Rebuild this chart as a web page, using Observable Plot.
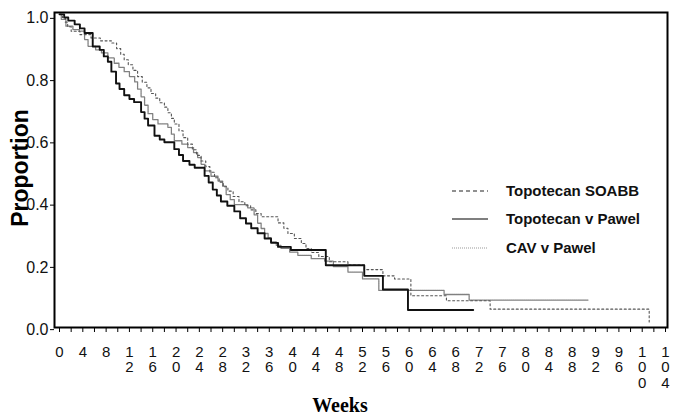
<!DOCTYPE html>
<html><head><meta charset="utf-8">
<script src="https://cdn.jsdelivr.net/npm/d3@7"></script>
<script src="https://cdn.jsdelivr.net/npm/@observablehq/plot@0.6"></script>
<style>
body{margin:0;background:#fff;}
#wrap{position:relative;width:675px;height:416px;overflow:hidden;background:#fff;}
#ylab{position:absolute;left:20px;top:168px;transform:translate(-50%,-50%) rotate(-90deg);font:bold 23px "Liberation Sans",Arial,sans-serif;color:#000;white-space:nowrap;}
#xlab{position:absolute;left:340px;top:405px;transform:translate(-50%,-50%);font:bold 20px "Liberation Serif","Times New Roman",serif;color:#000;white-space:nowrap;}
#legend{position:absolute;left:0;top:0;}
</style></head><body><div id="wrap"><div id="ylab">Proportion</div><div id="xlab">Weeks</div></div>
<script>
// Series names (legend order)
const seriesNames = ["Topotecan SOABB", "Topotecan v Pawel", "CAV v Pawel"];

// Topotecan SOABB (short dashes) : step times (weeks) and survival proportion
const soabbWeeks = [0,0.5,1.0,1.4,2.0,3.5,5.4,7.0,8.9,9.8,10.5,11.1,11.8,12.6,13.4,14.2,15.0,15.7,16.5,17.2,18.0,18.6,19.2,19.7,20.5,21.2,22.0,22.8,23.5,24.3,25.1,25.8,26.6,27.4,28.1,28.9,29.8,30.8,31.8,32.8,33.7,34.6,37.5,38.5,39.2,40.3,41.5,42.3,43.2,44.5,46.3,49.5,52.3,55.5,57.5,60.3,66.4,73.9,101.2];
const soabbSurv  = [1.0,0.99,0.975,0.96,0.946,0.935,0.924,0.915,0.908,0.89,0.872,0.854,0.838,0.82,0.80,0.782,0.764,0.746,0.731,0.716,0.702,0.684,0.666,0.648,0.626,0.604,0.583,0.565,0.547,0.529,0.511,0.493,0.475,0.461,0.446,0.432,0.415,0.398,0.385,0.372,0.36,0.35,0.33,0.313,0.296,0.28,0.264,0.248,0.235,0.222,0.205,0.195,0.18,0.16,0.15,0.096,0.08,0.053,0.012];

// Topotecan v Pawel (solid)
const topoWeeks = [0,0.8,1.5,2.6,3.5,4.3,5.7,6.9,7.6,8.3,8.9,9.7,10.3,11.1,12.0,12.8,14.0,14.6,15.2,16.3,17.2,18.0,19.7,20.5,21.2,22.3,23.2,24.9,25.6,26.3,27.0,27.7,28.8,30.0,31.0,32.0,32.9,34.0,35.2,36.3,37.5,39.7,45.7,52.3,55.5,59.8,71.0];
const topoSurv  = [1.0,0.99,0.98,0.968,0.955,0.94,0.897,0.886,0.865,0.848,0.816,0.778,0.76,0.74,0.728,0.718,0.686,0.665,0.643,0.61,0.598,0.589,0.567,0.548,0.529,0.517,0.507,0.481,0.46,0.437,0.418,0.399,0.385,0.367,0.345,0.328,0.313,0.297,0.28,0.266,0.253,0.243,0.194,0.16,0.116,0.05,0.05];

// CAV v Pawel (fine dotted)
const cavWeeks = [0,0.3,1.1,2.3,3.4,4.3,4.9,6.2,7.2,8.3,9.4,10.2,11.1,12.0,12.9,13.4,14.0,14.6,15.2,16.0,16.9,18.6,19.2,19.7,21.0,22.0,23.0,23.7,24.3,24.9,26.0,27.2,28.0,28.6,29.3,30.0,32.3,33.4,34.0,34.6,35.2,35.8,36.3,37.2,38.0,39.5,40.9,43.2,45.5,47.0,49.5,52.0,54.8,66.0,70.3,90.7];
const cavSurv  = [1.0,0.984,0.962,0.951,0.946,0.919,0.897,0.886,0.876,0.86,0.843,0.83,0.816,0.8,0.783,0.76,0.735,0.708,0.681,0.662,0.648,0.637,0.615,0.594,0.583,0.572,0.556,0.54,0.518,0.497,0.48,0.464,0.448,0.421,0.405,0.389,0.378,0.356,0.329,0.312,0.296,0.282,0.269,0.258,0.248,0.236,0.226,0.215,0.207,0.19,0.172,0.15,0.113,0.10,0.082,0.082];

const xLabelTicks = d3.range(0, 105, 4);
const xMinorTicks = d3.range(0, 105, 2);
const yTicks = [0, 0.2, 0.4, 0.6, 0.8, 1.0];

const toRows = (w, s) => w.map((d, i) => ({week: d, surv: s[i]}));
const soabb = toRows(soabbWeeks, soabbSurv);
const topo = toRows(topoWeeks, topoSurv);
const cav = toRows(cavWeeks, cavSurv);

const styles = [
  {stroke: "#555", strokeWidth: 1.1, strokeDasharray: "2,2.5"},
  {stroke: "#111", strokeWidth: 1.9},
  {stroke: "#808080", strokeWidth: 1.3, strokeDasharray: "1.5,0.6"}
];

const chart = Plot.plot({
  width: 675,
  height: 416,
  marginLeft: 54,
  marginRight: 8,
  marginTop: 12,
  marginBottom: 89,
  style: {fontFamily: "'Liberation Sans', Arial, sans-serif", color: "#111", background: "transparent"},
  x: {domain: [-0.86, 104.34], label: null},
  y: {domain: [-0.006, 1.006], label: null},
  marks: [
    Plot.line(cav, {x: "week", y: "surv", curve: "step-after", ...styles[2]}),
    Plot.line(soabb, {x: "week", y: "surv", curve: "step-after", ...styles[0]}),
    Plot.line(topo, {x: "week", y: "surv", curve: "step-after", ...styles[1]}),
    Plot.axisX({ticks: xMinorTicks, tickSize: 5, tickFormat: () => "", stroke: "#000"}),
    Plot.axisX({ticks: xLabelTicks, tickSize: 0, tickPadding: 18, fontSize: 15, lineHeight: 1.05,
      tickFormat: d => String(d).split("").join("\n"), fill: "#111"}),
    Plot.axisY({ticks: yTicks, tickSize: 4, tickPadding: 2, fontSize: 16, dy: 4,
      tickFormat: d3.format(".1f"), fill: "#111", stroke: "#000"}),
    Plot.frame({stroke: "#000", strokeWidth: 2})
  ]
});
document.getElementById("wrap").prepend(chart);

// Legend (inside plot area)
const legY = [191, 219, 248];
const ns = "http://www.w3.org/2000/svg";
const leg = document.createElementNS(ns, "svg");
leg.setAttribute("id", "legend");
leg.setAttribute("width", 675);
leg.setAttribute("height", 416);
const legStyles = [
  {stroke: "#222", w: 1.2, dash: "4,3"},
  {stroke: "#555", w: 1.5, dash: null},
  {stroke: "#999", w: 1.2, dash: "1,1"}
];
seriesNames.forEach((name, i) => {
  const ln = document.createElementNS(ns, "line");
  ln.setAttribute("x1", 452); ln.setAttribute("x2", 488);
  ln.setAttribute("y1", legY[i]); ln.setAttribute("y2", legY[i]);
  ln.setAttribute("stroke", legStyles[i].stroke);
  ln.setAttribute("stroke-width", legStyles[i].w);
  if (legStyles[i].dash) ln.setAttribute("stroke-dasharray", legStyles[i].dash);
  leg.appendChild(ln);
  const t = document.createElementNS(ns, "text");
  t.setAttribute("x", 506); t.setAttribute("y", legY[i]);
  t.setAttribute("dy", "0.35em");
  t.setAttribute("font-family", "'Liberation Sans', Arial, sans-serif");
  t.setAttribute("font-weight", "bold");
  t.setAttribute("font-size", 15);
  t.setAttribute("fill", "#111");
  t.textContent = name;
  leg.appendChild(t);
});
document.getElementById("wrap").appendChild(leg);
</script>
</body></html>
